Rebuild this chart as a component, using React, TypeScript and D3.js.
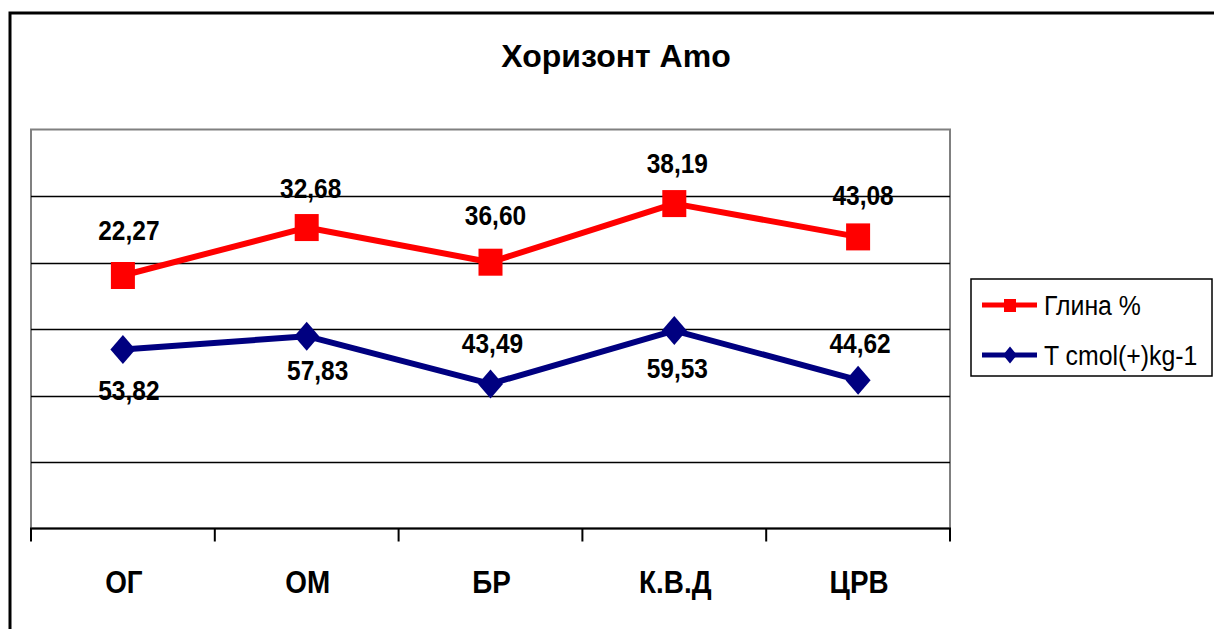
import React from "react";
import * as d3 from "d3";

const categories = ["ОГ", "ОМ", "БР", "К.В.Д", "ЦРВ"];
const tValues = [53.82, 57.83, 43.49, 59.53, 44.62];
const clayValues = [22.27, 32.68, 36.6, 38.19, 43.08];
const seriesNames = ["Глина %", "T cmol(+)kg-1"];
const yTicks = [0, 20, 40, 60, 80, 100, 120];
const title = "Хоризонт Amo";

// label offsets (dx, dy) relative to marker, as placed in the original
const clayLabelOffsets: [number, number][] = [[6, -45], [4, -40], [5, -47], [3, -41], [5, -42]];
const tLabelOffsets: [number, number][] = [[6, 40], [11, 34], [2, -41], [3, 37], [2, -37]];

const W = 1214;
const H = 629;
const plot = { left: 31, right: 950, top: 129.5, bottom: 528.5 };

const fmt = (v: number) => v.toFixed(2).replace(".", ",");

export default function App() {
  const x = d3.scaleBand<string>().domain(categories).range([plot.left, plot.right]);
  const y = d3.scaleLinear().domain([0, 120]).range([plot.bottom, plot.top]);
  const cx = (c: string) => (x(c) as number) + x.bandwidth() / 2;

  // stacked line: clay is stacked on T
  const stacked = clayValues.map((v, i) => v + tValues[i]);
  const tPts = categories.map((c, i) => [cx(c), y(tValues[i])] as [number, number]);
  const clayPts = categories.map((c, i) => [cx(c), y(stacked[i])] as [number, number]);
  const line = d3.line();

  const red = "#FF0000";
  const navy = "#000080";
  const font = "'Liberation Sans', Arial, sans-serif";

  const diamond = (px: number, py: number, w: number, h: number) =>
    `M${px},${py - h / 2} L${px + w / 2},${py} L${px},${py + h / 2} L${px - w / 2},${py} Z`;

  const tickXs = [...categories.map((c) => x(c) as number), plot.right];

  const stretch = (px: number, py: number, sx: number, sy: number) =>
    `translate(${px},${py}) scale(${sx},${sy}) translate(${-px},${-py})`;

  return (
    <svg
      width={W}
      height={H}
      style={{ position: "absolute", left: 0, top: 0, background: "#fff" }}
      fontFamily={font}
    >
      <rect x={0} y={0} width={W} height={H} fill="#fff" />
      {/* outer chart border */}
      <rect x={10} y={13} width={W + 20} height={H + 20} fill="none" stroke="#000" strokeWidth={3} />

      {/* plot area */}
      <rect
        x={plot.left}
        y={plot.top}
        width={plot.right - plot.left}
        height={plot.bottom - plot.top}
        fill="#fff"
        stroke="#808080"
        strokeWidth={2}
      />
      {/* gridlines */}
      {yTicks.slice(1, -1).map((t) => (
        <line key={t} x1={plot.left} x2={plot.right} y1={Math.round(y(t)) + 0.5} y2={Math.round(y(t)) + 0.5} stroke="#000" strokeWidth={1.5} />
      ))}
      {/* category axis */}
      <line x1={plot.left - 1} x2={plot.right + 1} y1={plot.bottom} y2={plot.bottom} stroke="#000" strokeWidth={2} />
      {tickXs.map((tx, i) => (
        <line key={i} x1={tx} x2={tx} y1={plot.bottom} y2={plot.bottom + 13} stroke="#000" strokeWidth={2} />
      ))}
      {categories.map((c) => (
        <text
          key={c}
          x={cx(c) + 1}
          y={593}
          textAnchor="middle"
          fontSize={29}
          fontWeight="bold"
          fill="#000"
          transform={stretch(cx(c) + 1, 593, 0.96, 1.08)}
        >
          {c}
        </text>
      ))}

      {/* title */}
      <text x={616} y={67} textAnchor="middle" fontSize={32} fontWeight="bold" fill="#000">
        {title}
      </text>

      {/* lines */}
      <path d={line(tPts) as string} fill="none" stroke={navy} strokeWidth={6} strokeLinejoin="round" />
      <path d={line(clayPts) as string} fill="none" stroke={red} strokeWidth={6} strokeLinejoin="round" />
      {tPts.map(([px, py], i) => (
        <path key={"d" + i} d={diamond(px, py, 25, 29)} fill={navy} />
      ))}
      {clayPts.map(([px, py], i) => (
        <rect key={"s" + i} x={px - 12} y={py - 13.5} width={24} height={27} fill={red} />
      ))}

      {/* data labels */}
      {clayPts.map(([px, py], i) => {
        const lx = px + clayLabelOffsets[i][0];
        const ly = py + clayLabelOffsets[i][1] + 10;
        return (
          <text
            key={"cl" + i}
            x={lx}
            y={ly}
            textAnchor="middle"
            fontSize={25}
            fontWeight="bold"
            fill="#000"
            transform={stretch(lx, ly, 0.98, 1.1)}
          >
            {fmt(clayValues[i])}
          </text>
        );
      })}
      {tPts.map(([px, py], i) => {
        const lx = px + tLabelOffsets[i][0];
        const ly = py + tLabelOffsets[i][1] + 10;
        return (
          <text
            key={"tl" + i}
            x={lx}
            y={ly}
            textAnchor="middle"
            fontSize={25}
            fontWeight="bold"
            fill="#000"
            transform={stretch(lx, ly, 0.98, 1.1)}
          >
            {fmt(tValues[i])}
          </text>
        );
      })}

      {/* legend */}
      <rect x={971} y={279} width={241} height={97} fill="#fff" stroke="#000" strokeWidth={1.5} />
      <line x1={982} x2={1037} y1={305} y2={305} stroke={red} strokeWidth={5} />
      <rect x={1004} y={299} width={12} height={13} fill={red} />
      <text x={1044} y={315} fontSize={27} fill="#000" transform={stretch(1044, 315, 0.92, 1.05)}>
        {seriesNames[0]}
      </text>
      <line x1={982} x2={1037} y1={355} y2={355} stroke={navy} strokeWidth={5} />
      <path d={diamond(1010, 355, 14, 17)} fill={navy} />
      <text x={1044} y={365} fontSize={27} fill="#000" transform={stretch(1044, 365, 0.92, 1.05)}>
        {seriesNames[1]}
      </text>
    </svg>
  );
}
